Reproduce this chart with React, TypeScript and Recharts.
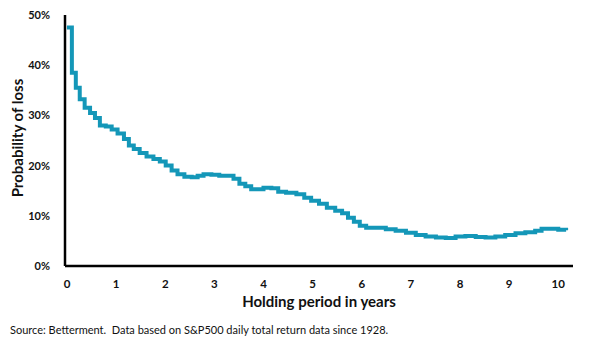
import React from "react";
import { LineChart, Line, XAxis, YAxis } from "recharts";

// holding period (years) and probability of loss (%)
const years = [
  0.0, 0.1, 0.18, 0.26, 0.36, 0.47, 0.57, 0.67, 0.79, 0.91,
  1.03, 1.16, 1.26, 1.36, 1.48, 1.62, 1.76, 1.89, 2.01, 2.13,
  2.25, 2.39, 2.54, 2.66, 2.78, 2.94, 3.1, 3.27, 3.39, 3.51,
  3.63, 3.75, 3.87, 4.0, 4.16, 4.3, 4.46, 4.67, 4.83, 4.97,
  5.13, 5.29, 5.46, 5.6, 5.72, 5.84, 5.96, 6.09, 6.29, 6.49,
  6.69, 6.9, 7.1, 7.3, 7.51, 7.71, 7.91, 8.11, 8.32, 8.52,
  8.72, 8.92, 9.13, 9.33, 9.53, 9.66, 9.84, 10.0, 10.16,
];
const lossPct = [
  47.5, 38.5, 35.5, 33.2, 31.5, 30.5, 29.5, 28.0, 27.8, 27.2,
  26.4, 25.3, 24.0, 23.3, 22.5, 21.8, 21.3, 20.8, 20.0, 19.0,
  18.3, 17.8, 17.7, 18.0, 18.3, 18.2, 18.0, 18.0, 17.4, 16.4,
  15.9, 15.3, 15.3, 15.6, 15.5, 14.8, 14.6, 14.3, 13.6, 13.0,
  12.4, 11.6, 11.0, 10.5, 9.6, 8.8, 8.0, 7.6, 7.6, 7.3,
  7.0, 6.6, 6.2, 5.9, 5.7, 5.6, 5.9, 6.0, 5.8, 5.7,
  5.9, 6.2, 6.5, 6.7, 7.0, 7.4, 7.4, 7.2, 7.1,
];
const xTicks = [0, 1, 2, 3, 4, 5, 6, 7, 8, 9, 10];
const yTicks = [0, 10, 20, 30, 40, 50];

const FONT = "Lato, 'Open Sans', sans-serif";

export default function App() {
  const data = years.map((y, i) => ({ year: y, loss: lossPct[i] }));

  return (
    <div style={{ position: "absolute", left: 0, top: 0, width: 600, height: 351, background: "#fff", fontFamily: FONT }}>
      <LineChart
        width={600}
        height={351}
        data={data}
        margin={{ top: 15, right: 27, left: 0, bottom: 55 }}
      >
        <XAxis
          dataKey="year"
          type="number"
          domain={[-0.04, 10.3]}
          ticks={xTicks}
          interval={0}
          height={30}
          tickLine={false}
          axisLine={{ stroke: "#000", strokeWidth: 2.5 }}
          tick={{ fontSize: 11.5, fontWeight: 700, fill: "#111", fontFamily: FONT }}
          tickMargin={8}
        />
        <YAxis
          type="number"
          domain={[0, 50]}
          ticks={yTicks}
          width={65}
          tickLine={false}
          axisLine={{ stroke: "#000", strokeWidth: 2.5 }}
          tick={{ fontSize: 11, fontWeight: 700, fill: "#111", fontFamily: FONT }}
          tickFormatter={(v) => `${v}%`}
          tickMargin={9}
        />
        <Line
          dataKey="loss"
          type="stepAfter"
          stroke="#1497B8"
          strokeWidth={4}
          dot={false}
          isAnimationActive={false}
        />
      </LineChart>

      <div
        style={{
          position: "absolute", left: 17, top: 138, transform: "translate(-50%, -50%) rotate(-90deg)",
          whiteSpace: "nowrap", fontSize: 15, fontWeight: 700, color: "#111",
        }}
      >
        Probability of loss
      </div>
      <div
        style={{
          position: "absolute", left: 319, top: 301, transform: "translate(-50%, -50%)",
          whiteSpace: "nowrap", fontSize: 15, fontWeight: 700, color: "#111",
        }}
      >
        Holding period in years
      </div>
      <div
        style={{
          position: "absolute", left: 10, top: 329, transform: "translateY(-50%)",
          whiteSpace: "nowrap", fontSize: 11, color: "#111",
        }}
      >
        Source: Betterment.&nbsp; Data based on S&amp;P500 daily total return data since 1928.
      </div>
    </div>
  );
}
